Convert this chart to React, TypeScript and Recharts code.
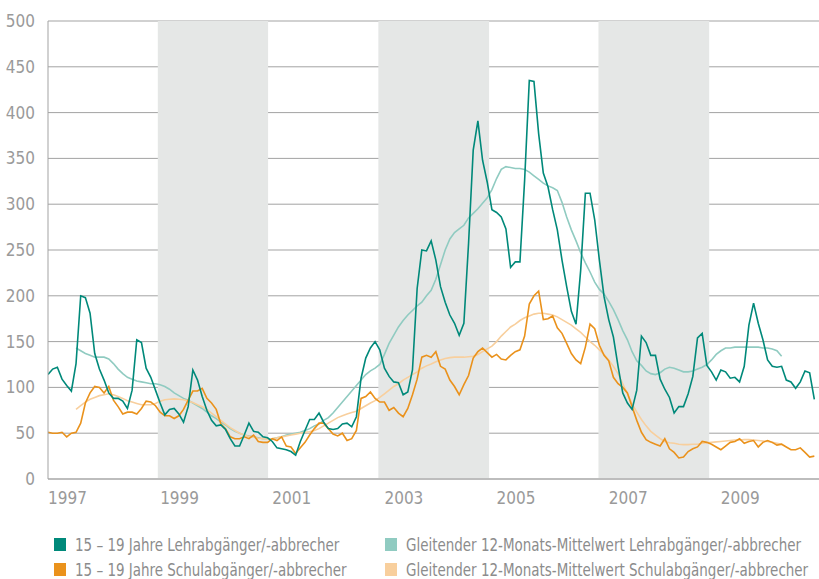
import React from "react";
import {
  LineChart,
  Line,
  XAxis,
  YAxis,
  CartesianGrid,
  ReferenceArea,
} from "recharts";

// monthly values, Jan 1997 = index 0
const lehr = [
  114, 120, 122, 109, 102, 96, 126, 200, 198, 181,
  137, 120, 108, 94, 88, 88, 85, 77, 97, 152,
  149, 121, 111, 97, 83, 70, 76, 77, 71, 62,
  79, 119, 108, 90, 75, 64, 58, 59, 54, 44,
  36, 36, 48, 61, 52, 51, 46, 45, 41, 34,
  33, 32, 30, 26, 41, 53, 65, 65, 72, 62,
  55, 54, 55, 60, 61, 57, 68, 110, 132, 143,
  150, 141, 121, 112, 106, 105, 92, 95, 119, 208,
  250, 249, 260, 239, 210, 193, 179, 170, 157, 170,
  257, 359, 391, 348, 324, 294, 291, 286, 273, 231,
  237, 237, 326, 435, 434, 377, 334, 319, 294, 272,
  239, 210, 183, 169, 228, 312, 312, 283, 239, 199,
  174, 155, 123, 94, 83, 76, 97, 156, 149, 135,
  135, 109, 98, 89, 72, 79, 79, 93, 112, 154,
  159, 124, 117, 108, 119, 117, 110, 111, 106, 123,
  168, 192, 170, 152, 130, 123, 122, 123, 108, 106,
  99, 106, 118, 116, 87,
];

const schul = [
  51, 50, 50, 51, 46, 50, 51, 61, 83, 94,
  101, 100, 94, 101, 86, 79, 71, 73, 73, 71,
  77, 85, 84, 80, 73, 69, 69, 66, 69, 76,
  86, 96, 96, 99, 88, 83, 76, 60, 55, 46,
  44, 44, 46, 44, 48, 41, 40, 40, 44, 42,
  46, 36, 35, 28, 34, 40, 48, 55, 61, 61,
  55, 49, 47, 50, 42, 44, 53, 88, 90, 95,
  88, 84, 84, 75, 78, 72, 68, 77, 92, 109,
  133, 135, 133, 139, 123, 120, 108, 101, 92, 103,
  113, 132, 139, 143, 138, 133, 136, 131, 130, 135,
  139, 141, 156, 191, 200, 205, 174, 175, 178, 165,
  159, 148, 137, 130, 126, 144, 169, 164, 146, 135,
  129, 111, 104, 100, 94, 79, 64, 51, 43, 40,
  38, 36, 44, 33, 29, 23, 24, 30, 33, 35,
  41, 40, 38, 35, 32, 36, 40, 41, 44, 39,
  41, 42, 35, 40, 42, 40, 37, 38, 35, 32,
  32, 34, 29, 24, 25,
];

// 12-month moving averages, first value is month index 6
const MA_START = 6;
const maLehr = [
  143, 140, 137, 135, 133, 133, 133, 131, 126, 120,
  115, 111, 109, 107, 106, 105, 104, 104, 103, 101,
  98, 94, 91, 88, 86, 83, 80, 77, 73, 69,
  66, 62, 59, 55, 52, 50, 48, 47, 46, 45,
  44, 44, 44, 45, 46, 48, 49, 50, 51, 53,
  55, 58, 60, 64, 67, 72, 78, 84, 90, 96,
  102, 108, 114, 118, 121, 125, 136, 148, 157, 166,
  173, 179, 184, 189, 193, 200, 206, 218, 234, 250,
  262, 269, 273, 277, 285, 290, 295, 301, 307, 316,
  328, 338, 341, 340, 339, 339, 338, 335, 331, 327,
  323, 320, 318, 315, 302, 286, 272, 260, 247, 236,
  226, 215, 207, 202, 194, 185, 174, 162, 152, 139,
  129, 124, 118, 115, 114, 116, 120, 122, 121, 119,
  117, 117, 118, 120, 122, 125, 130, 136, 140, 143,
  143, 144, 144, 144, 144, 144, 144, 143, 143, 142,
  140, 134,
];
const maSchul = [
  76, 80, 84, 87, 89, 91, 92, 93, 92, 90,
  88, 85.5, 84, 82.5, 81, 81, 81, 82.5, 85, 86.5,
  87, 87.5, 87, 86.5, 85, 83.5, 81, 79, 76, 72,
  68, 64, 60, 56, 53, 50, 48, 46.5, 45.5, 44.5,
  44, 43.5, 44, 45, 46, 47, 48, 49, 50, 51,
  51.5, 53, 55, 58, 61, 64, 67, 69, 71, 72.5,
  74, 77, 80, 83, 85.5, 89, 93, 97, 101, 104,
  108, 111, 114, 117, 121, 123.5, 125.5, 128, 130, 131.5,
  132.5, 133, 133, 133, 133.5, 134, 136, 139, 142, 145,
  150, 156, 161, 166, 169, 173, 176, 178, 180, 181,
  181, 180, 179, 177, 174, 171, 168, 164, 160, 155,
  150, 146, 141, 136, 130, 123, 115, 104, 93, 82,
  73, 65, 58, 52, 48, 44, 41, 39.5, 39, 38,
  37.5, 37.5, 38, 38, 39, 39.5, 40, 40.5, 41, 41.5,
  42, 42.5, 42.5, 43, 43, 42.5, 42, 41.5, 41, 40,
  39, 38,
];

const yearTicks = [0, 24, 48, 72, 96, 120, 144];
const yearLabels = ["1997", "1999", "2001", "2003", "2005", "2007", "2009"];
const yTicks = [0, 50, 100, 150, 200, 250, 300, 350, 400, 450, 500];
// shaded periods in month index
const bands = [
  [23.5, 47.1],
  [70.7, 94.4],
  [117.8, 141.5],
];

const series = [
  { key: "lehr", name: "15 – 19 Jahre Lehrabgänger/-abbrecher", color: "#00897a" },
  { key: "schul", name: "15 – 19 Jahre Schulabgänger/-abbrecher", color: "#ea921c" },
  { key: "maLehr", name: "Gleitender 12-Monats-Mittelwert Lehrabgänger/-abbrecher", color: "#90cbc1" },
  { key: "maSchul", name: "Gleitender 12-Monats-Mittelwert Schulabgänger/-abbrecher", color: "#f8cf9d" },
];

const data = lehr.map((v, i) => {
  const j = i - MA_START;
  return {
    i,
    lehr: v,
    schul: schul[i],
    maLehr: j >= 0 && j < maLehr.length ? maLehr[j] : null,
    maSchul: j >= 0 && j < maSchul.length ? maSchul[j] : null,
  };
});

const FONT = "'Liberation Sans Narrow', 'DejaVu Sans Condensed', 'Roboto', sans-serif";
const TEXT = "#9a9a9a";

function XTick({ x, y, payload }: any) {
  const idx = yearTicks.indexOf(payload.value);
  return (
    <text x={x} y={y} dy={25} textAnchor="start" fill={TEXT} fontSize={17} fontFamily={FONT}>
      {yearLabels[idx]}
    </text>
  );
}

function LegendItem({ color, name }: { color: string; name: string }) {
  return (
    <div style={{ display: "flex", alignItems: "center", height: 25 }}>
      <span style={{ width: 12, height: 13, background: color, marginRight: 9, flexShrink: 0 }} />
      <span
        style={{
          display: "inline-block",
          whiteSpace: "nowrap",
          transform: "scaleX(0.88)",
          transformOrigin: "left center",
        }}
      >
        {name}
      </span>
    </div>
  );
}

export default function App() {
  return (
    <div style={{ position: "absolute", left: 0, top: 0, width: 819, height: 579, background: "#fff", overflow: "hidden" }}>
      <LineChart width={819} height={579} data={data} margin={{ top: 21, right: 0, bottom: 70, left: 0 }}>
        {bands.map(([a, b], k) => (
          <ReferenceArea key={k} x1={a} x2={b} y1={0} y2={500} fill="#e5e7e6" fillOpacity={1} stroke="none" />
        ))}
        <CartesianGrid vertical={false} stroke="#a3a3a3" strokeWidth={1} />
        <XAxis
          dataKey="i"
          type="number"
          domain={[0, 165]}
          ticks={yearTicks}
          tick={<XTick />}
          tickLine={false}
          tickSize={0}
          tickMargin={0}
          height={30}
          axisLine={{ stroke: "#bdbdbd", strokeWidth: 2 }}
          allowDataOverflow
        />
        <YAxis
          width={48}
          domain={[0, 500]}
          ticks={yTicks}
          tickLine={false}
          axisLine={{ stroke: "#a3a3a3" }}
          tickMargin={7}
          tick={{ fill: TEXT, fontSize: 17, fontFamily: FONT }}
        />
        <Line dataKey="maLehr" stroke="#90cbc1" strokeWidth={1.6} dot={false} isAnimationActive={false} />
        <Line dataKey="maSchul" stroke="#f8cf9d" strokeWidth={1.6} dot={false} isAnimationActive={false} />
        <Line dataKey="schul" stroke="#ea921c" strokeWidth={1.6} dot={false} isAnimationActive={false} />
        <Line dataKey="lehr" stroke="#00897a" strokeWidth={1.6} dot={false} isAnimationActive={false} />
      </LineChart>
      <div
        style={{
          position: "absolute",
          left: 54,
          top: 532,
          display: "grid",
          gridTemplateColumns: "331px 410px",
          fontFamily: FONT,
          fontSize: 17,
          color: "#8c8c8c",
        }}
      >
        <LegendItem color={series[0].color} name={series[0].name} />
        <LegendItem color={series[2].color} name={series[2].name} />
        <LegendItem color={series[1].color} name={series[1].name} />
        <LegendItem color={series[3].color} name={series[3].name} />
      </div>
    </div>
  );
}
